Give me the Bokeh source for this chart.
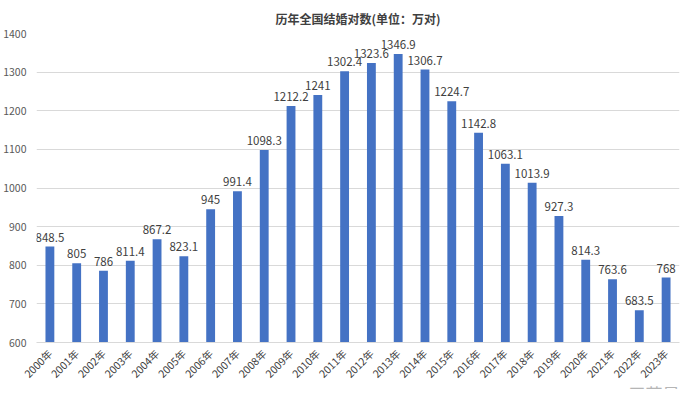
from bokeh.plotting import figure
from bokeh.models import ColumnDataSource, Range1d, FixedTicker, Title
from bokeh.embed import file_html
from bokeh.resources import INLINE
from math import pi

years = ["2000年", "2001年", "2002年", "2003年", "2004年", "2005年", "2006年", "2007年",
         "2008年", "2009年", "2010年", "2011年", "2012年", "2013年", "2014年", "2015年",
         "2016年", "2017年", "2018年", "2019年", "2020年", "2021年", "2022年", "2023年"]
marriages = [848.5, 805, 786, 811.4, 867.2, 823.1, 945, 991.4,
             1098.3, 1212.2, 1241, 1302.4, 1323.6, 1346.9, 1306.7, 1224.7,
             1142.8, 1063.1, 1013.9, 927.3, 814.3, 763.6, 683.5, 768]
value_labels = ["848.5", "805", "786", "811.4", "867.2", "823.1", "945", "991.4",
                "1098.3", "1212.2", "1241", "1302.4", "1323.6", "1346.9", "1306.7", "1224.7",
                "1142.8", "1063.1", "1013.9", "927.3", "814.3", "763.6", "683.5", "768"]
y_ticks = [600, 700, 800, 900, 1000, 1100, 1200, 1300, 1400]
title_text = "历年全国结婚对数(单位：万对)"
watermark_text = "@王菲晨"

FONT = "Noto Sans CJK SC"

src = ColumnDataSource(dict(x=years, top=marriages, lab=value_labels))

p = figure(x_range=years, y_range=Range1d(600, 1400),
           frame_width=643, frame_height=309,
           output_backend="svg", toolbar_location=None,
           min_border_left=29, min_border_right=2, min_border_top=20, min_border_bottom=30)

p.title.text = title_text
p.title.align = "center"
p.title.offset = -16
p.title.standoff = 14
p.title.text_font = FONT
p.title.text_font_size = "12px"
p.title.text_font_style = "bold"
p.title.text_color = "#404040"

p.vbar(x="x", top="top", bottom=600, width=0.33, source=src,
       fill_color="#4472C4", line_color=None)

p.text(x="x", y="top", text="lab", source=src, text_align="center",
       text_baseline="bottom", y_offset=-5, text_font_size="11.5px",
       text_color="#404040", text_font={"value": FONT})

p.outline_line_color = None
p.background_fill_color = "white"
p.border_fill_color = "white"

p.xgrid.grid_line_color = None
p.ygrid.grid_line_color = "#D9D9D9"
p.ygrid.grid_line_width = 1

p.yaxis.ticker = FixedTicker(ticks=y_ticks)
p.yaxis.axis_line_color = None
p.yaxis.major_tick_line_color = None
p.yaxis.minor_tick_line_color = None
p.yaxis.major_label_text_font = FONT
p.yaxis.major_label_text_font_size = "10.5px"
p.yaxis.major_label_text_color = "#595959"
p.yaxis.major_label_standoff = 4

p.xaxis.axis_line_color = "#D9D9D9"
p.xaxis.major_tick_line_color = None
p.xaxis.minor_tick_line_color = None
p.xaxis.major_label_orientation = pi / 4
p.xaxis.major_label_text_font = FONT
p.xaxis.major_label_text_font_size = "10.5px"
p.xaxis.major_label_text_color = "#404040"
p.xaxis.major_label_standoff = 3

wm = Title(text=watermark_text, align="right", standoff=-33,
           text_font=FONT, text_font_size="17px", text_font_style="normal",
           text_color="#B5B5B5")
p.add_layout(wm, "below")

open("out.html", "w").write(file_html(p, INLINE))
